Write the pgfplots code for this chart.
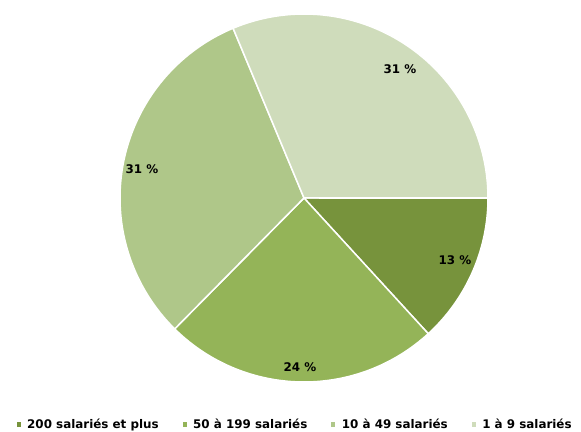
\documentclass[border=0pt]{standalone}
\usepackage{pgfplots}
\pgfplotsset{compat=1.18}
\usepackage{fontspec}
\setmainfont{DejaVu Sans}
\definecolor{cA}{HTML}{77933C}
\definecolor{cB}{HTML}{94B458}
\definecolor{cC}{HTML}{AFC789}
\definecolor{cD}{HTML}{CFDCBB}
% slice: cumulative start %, cumulative end %, colour
\newcommand\slice[3]{%
  \addplot[fill=#3, draw=white, line width=1.5bp, domain={-3.6*#2}:{-3.6*#1}, samples=90]
    ({304+184*cos(x)},{234+184*sin(x)}) -- (axis cs:304,234) -- cycle;}
\begin{document}
\begin{tikzpicture}
\useasboundingbox (0,0) rectangle (581bp,432bp);
\begin{axis}[
  x=1bp, y=1bp, xmin=0, xmax=581, ymin=0, ymax=432,
  scale only axis, hide axis, clip=false,
  legend columns=-1,
  legend style={at={(axis cs:15,7.5)}, anchor=west, draw=none, fill=none, inner sep=0pt,
    font=\bfseries\fontsize{11.9bp}{13bp}\selectfont,
    /tikz/every even column/.append style={column sep=20.5bp},
    nodes={inner sep=2bp}},
  legend image code/.code={\fill[#1] (0bp,-2.75bp) rectangle (5.5bp,2.75bp); \path (8.5bp,0);},
]
% values in percent: 200+ = 13.2, 50-199 = 24.2, 10-49 = 31.3, 1-9 = 31.3
\slice{0}{13.2}{cA}
\addlegendentry{200 salariés et plus}
\slice{13.2}{37.4}{cB}
\addlegendentry{50 à 199 salariés}
\slice{37.4}{68.7}{cC}
\addlegendentry{10 à 49 salariés}
\slice{68.7}{100}{cD}
\addlegendentry{1 à 9 salariés}
\begin{scope}[every node/.style={font=\bfseries\fontsize{11.9bp}{13bp}\selectfont}]
\node at (axis cs:455,172) {13 \%};
\node at (axis cs:300,65) {24 \%};
\node at (axis cs:142,263) {31 \%};
\node at (axis cs:400,363) {31 \%};
\end{scope}
\end{axis}
\end{tikzpicture}
\end{document}
